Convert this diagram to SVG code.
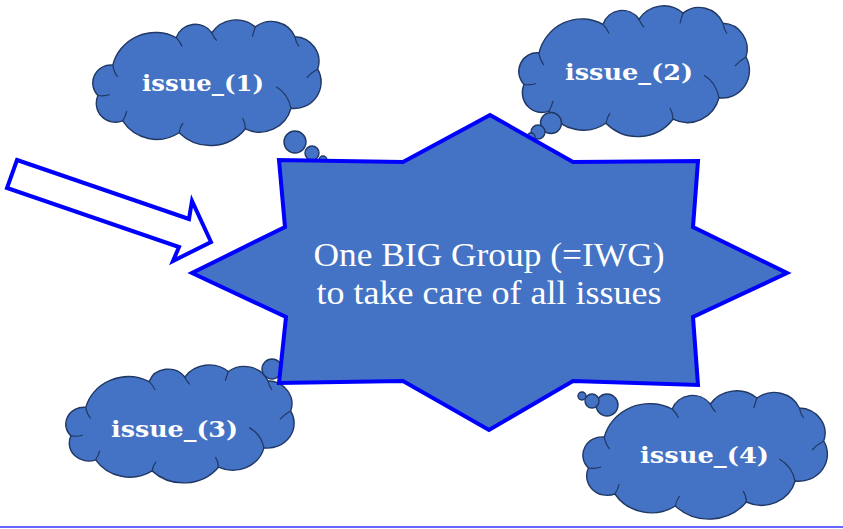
<svg xmlns="http://www.w3.org/2000/svg" width="843" height="529" viewBox="0 0 843 529">
<style>
.cloud{fill:#4472C4;stroke:#203864;stroke-width:1.4;vector-effect:non-scaling-stroke}
.crease{fill:none;stroke:#203864;stroke-width:1.2;vector-effect:non-scaling-stroke}
.bub{fill:#4472C4;stroke:#203864;stroke-width:1.4}
.lbl{font-family:"DejaVu Serif","Liberation Serif",serif;font-weight:bold;font-size:22px;fill:#ffffff;text-anchor:middle}
.main{font-family:"Liberation Serif","DejaVu Serif",serif;font-size:34px;fill:#ffffff;text-anchor:middle}
.star{fill:#4472C4;stroke:#0000FF;stroke-width:4;stroke-linejoin:miter}
.arrow{fill:#ffffff;stroke:#0000FF;stroke-width:4;stroke-linejoin:miter}
</style>
<defs>
<path id="cloudShape" class="cloud" d="M22,45 A18.3 18.3 0 0 0 7,76 A19.5 19.5 0 0 0 32,102 A41 41 0 0 0 89,114 A45 45 0 0 0 156,110 A32.7 32.7 0 0 0 202,89 A27 27 0 0 0 229,49 A25.2 25.2 0 0 0 206,16 A26.2 26.2 0 0 0 166,6 A29.7 29.7 0 0 0 122,12 A20.5 20.5 0 0 0 86,17 A44.3 44.3 0 0 0 22,45 Z"/>
<path id="creases" class="crease" d="M22,45 Q23,52 27,57 M7,76 Q14,77 19,75 M32,102 Q35,97 36,92 M89,114 Q90,108 93,104 M156,110 Q156,104 153,99 M202,89 Q199,74 187,67 M229,49 Q222,53 218,58 M206,16 Q207,22 210,26 M166,6 Q164,12 163,16 M122,12 Q124,17 127,20 M86,17 Q90,21 92,26"/>
</defs>

<g id="connectors">
<path class="arrow" d="M17,160 L189,219 L192,201 L211,242 L173,261 L179,247 L7,188 Z"/>
</g>

<g id="cloud1">
<g transform="translate(91,21) scale(0.99,0.98)"><use href="#cloudShape"/><use href="#creases"/></g>
<circle class="bub" cx="295" cy="142" r="11"/>
<circle class="bub" cx="312" cy="153" r="7"/>
<circle class="bub" cx="323" cy="160" r="4"/>
<text class="lbl" x="203" y="91" textLength="122" lengthAdjust="spacingAndGlyphs">issue_(1)</text>
</g>

<g id="cloud2">
<g transform="translate(517,7) scale(1,1.02)"><use href="#cloudShape"/><use href="#creases"/></g>
<circle class="bub" cx="551" cy="123" r="10.5"/>
<circle class="bub" cx="538" cy="132" r="7"/>
<circle class="bub" cx="531" cy="137" r="4"/>
<text class="lbl" x="629" y="80" textLength="128" lengthAdjust="spacingAndGlyphs">issue_(2)</text>
</g>

<g id="cloud3">
<g transform="translate(64,366) scale(0.99,0.92)"><use href="#cloudShape"/><use href="#creases"/></g>
<circle class="bub" cx="272" cy="369" r="10"/>
<text class="lbl" x="174.5" y="437" textLength="127" lengthAdjust="spacingAndGlyphs">issue_(3)</text>
</g>

<g id="cloud4">
<g transform="translate(581,392) scale(1.06,1)"><use href="#cloudShape"/><use href="#creases"/></g>
<circle class="bub" cx="607" cy="405" r="11"/>
<circle class="bub" cx="592" cy="401" r="7"/>
<circle class="bub" cx="582" cy="396" r="4"/>
<text class="lbl" x="704.5" y="463" textLength="129" lengthAdjust="spacingAndGlyphs">issue_(4)</text>
</g>

<g id="star">
<path class="star" d="M490,115 L573,162 L698,161 L693,227 L787,273 L693,317 L698,385 L573,381 L489,430 L403,381 L279,383 L286,317 L192,273 L285,227 L279,160 L403,162 Z"/>
<text class="main" x="489" y="266" textLength="351" lengthAdjust="spacingAndGlyphs">One BIG Group (=IWG)</text>
<text class="main" x="489" y="304" textLength="345" lengthAdjust="spacingAndGlyphs">to take care of all issues</text>
</g>

<line x1="0" y1="527" x2="843" y2="527" stroke="#6666FF" stroke-width="2"/>
</svg>
